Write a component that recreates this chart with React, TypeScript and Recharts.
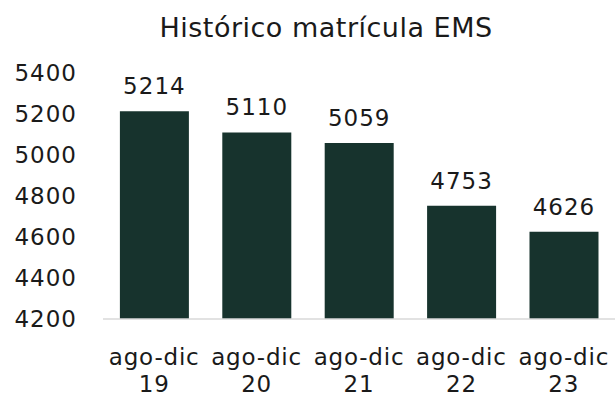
import { BarChart, Bar, XAxis, YAxis, LabelList } from 'recharts';

const periods = ['ago-dic 19', 'ago-dic 20', 'ago-dic 21', 'ago-dic 22', 'ago-dic 23'];
const enrollment = [5214, 5110, 5059, 4753, 4626];
const yTicks = [4200, 4400, 4600, 4800, 5000, 5200, 5400];

const data = periods.map((p, i) => ({ period: p, value: enrollment[i] }));

const FONT = '"DejaVu Sans", sans-serif';
const TEXT = '#1a1a1a';

const PeriodTick = (props: any) => {
    const { x, y, payload } = props;
    const [first, second] = String(payload.value).split(' ');
    return (
        <text x={x} y={y} textAnchor="middle" fill={TEXT} fontSize={23} fontFamily={FONT} letterSpacing={0.8}>
            <tspan x={x} dy={38}>{first}</tspan>
            <tspan x={x} dy={27}>{second}</tspan>
        </text>
    );
};

const App = () => {
    return (
        <div style={{ position: 'absolute', left: 0, top: 0, width: 615, height: 402, background: '#fff' }}>
            <div
                style={{
                    position: 'absolute', left: 0, top: 10, width: 652, textAlign: 'center',
                    fontFamily: FONT, fontSize: 27, color: TEXT, lineHeight: '36px', letterSpacing: 0.5,
                }}
            >
                Histórico matrícula EMS
            </div>
            <BarChart
                width={615}
                height={402}
                data={data}
                margin={{ top: 73, right: 0, left: 0, bottom: 0 }}
                barCategoryGap="16.5%"
            >
                <XAxis
                    dataKey="period"
                    axisLine={{ stroke: '#d9d9d9', strokeWidth: 1.5 }}
                    tickLine={false}
                    height={83}
                    interval={0}
                    tick={<PeriodTick />}
                />
                <YAxis
                    domain={[4200, 5400]}
                    ticks={yTicks}
                    width={103}
                    axisLine={false}
                    tickLine={false}
                    tickMargin={20}
                    interval={0}
                    tick={{ fill: TEXT, fontSize: 23, fontFamily: FONT, letterSpacing: 1 }}
                />
                <Bar dataKey="value" fill="#17332d" isAnimationActive={false}>
                    <LabelList
                        dataKey="value"
                        position="top"
                        offset={17}
                        fill={TEXT}
                        fontSize={23}
                        fontFamily={FONT}
                        letterSpacing={1}
                    />
                </Bar>
            </BarChart>
        </div>
    );
};

export default App;
